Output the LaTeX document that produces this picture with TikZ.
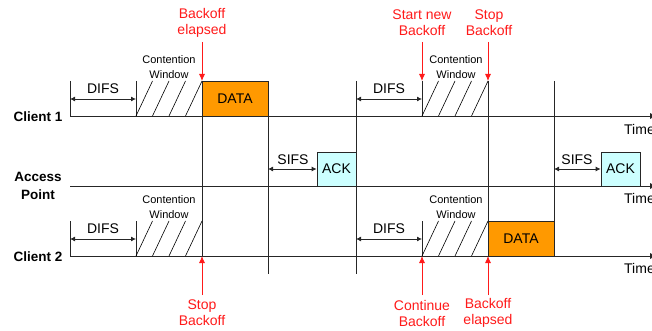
\documentclass[tikz,border=0pt]{standalone}
\usepackage{fontspec}
\setmainfont{Liberation Sans}
\usetikzlibrary{arrows.meta}
\definecolor{dataor}{HTML}{FF9900}
\definecolor{ackcy}{HTML}{CCFFFF}
\definecolor{redc}{HTML}{FF1A1A}
\tikzset{
  ln/.style={line width=0.8pt, draw=black!85},
  axis/.style={ln, -{Latex[length=7pt,width=6pt]}},
  dim/.style={ln, {Latex[length=5pt,width=5pt]}-{Latex[length=5pt,width=5pt]}},
  hatch/.style={line width=0.6pt, draw=black},
  redarr/.style={line width=0.9pt, draw=redc, -{Latex[length=7pt,width=6pt]}},
  redtxt/.style={text=redc, font=\fontsize{14}{16}\selectfont, align=center, inner sep=0pt},
  cwtxt/.style={font=\fontsize{11}{15}\selectfont, align=center, inner sep=0pt},
  dimtxt/.style={font=\fontsize{14}{16}\selectfont, inner sep=0pt},
  lbl/.style={font=\bfseries\fontsize{13.5}{18}\selectfont, align=center, inner sep=0pt},
  timetxt/.style={font=\fontsize{14}{16}\selectfont, anchor=west, inner sep=0pt},
  databox/.style={ln, fill=dataor, font=\fontsize{14}{16}\selectfont},
  ackbox/.style={ln, fill=ackcy, font=\fontsize{14}{16}\selectfont},
}
\begin{document}
\begin{tikzpicture}[x=1pt,y=-1pt]
\useasboundingbox (0,0) rectangle (652,331);
% row labels
\node[lbl] (c1) at (38,117) {Client 1};
\node[lbl] (ap) at (38,186) {Access\\Point};
\node[lbl] (c2) at (38,257) {Client 2};
% axes
\coordinate (a1s) at (70,116); \coordinate (a1e) at (657,116);
\coordinate (a2s) at (70,186); \coordinate (a2e) at (657,186);
\coordinate (a3s) at (70,256); \coordinate (a3e) at (657,256);
% boxes
\node[databox, minimum width=66pt, minimum height=35pt, inner sep=0pt] (d1) at (235,98.5) {DATA};
\node[databox, minimum width=66pt, minimum height=35pt, inner sep=0pt] (d2) at (521,238.5) {DATA};
\node[ackbox, minimum width=39pt, minimum height=34pt, inner sep=0pt] (k1) at (336.5,169) {ACK};
\node[ackbox, minimum width=39pt, minimum height=34pt, inner sep=0pt] (k2) at (620.5,169) {ACK};
\draw[axis] (a1s) -- (a1e);
\draw[axis] (a2s) -- (a2e);
\draw[axis] (a3s) -- (a3e);
\node[timetxt] (t1) at (624,129) {Time};
\node[timetxt] (t2) at (624,198) {Time};
\node[timetxt] (t3) at (624,268) {Time};
% vertical markers
\coordinate (v1a) at (70,81);  \coordinate (v1b) at (70,116);
\coordinate (v2a) at (136,81); \coordinate (v2b) at (136,116);
\coordinate (v3a) at (70,221); \coordinate (v3b) at (70,256);
\coordinate (v4a) at (136,221); \coordinate (v4b) at (136,256);
\coordinate (v5a) at (202,81); \coordinate (v5b) at (202,256);
\coordinate (v6a) at (268,116); \coordinate (v6b) at (268,274);
\coordinate (v7a) at (356,81); \coordinate (v7b) at (356,274);
\coordinate (v8a) at (422,81); \coordinate (v8b) at (422,116);
\coordinate (v9a) at (422,221); \coordinate (v9b) at (422,256);
\coordinate (v10a) at (488,81); \coordinate (v10b) at (488,221);
\coordinate (v11a) at (554,81); \coordinate (v11b) at (554,221);
\foreach \i in {1,...,11} {\draw[ln] (v\i a) -- (v\i b);}
% hatches
\foreach \x/\t in {136/81, 136/221, 422/81, 422/221} {
  \foreach \k in {0,1,2,3} {
    \draw[hatch] ({\x+16.5*\k},{\t+35}) -- ({\x+16.5*(\k+1)},\t);
  }
}
% DIFS
\coordinate (df1a) at (70,99);  \coordinate (df1b) at (136,99);
\coordinate (df2a) at (70,239); \coordinate (df2b) at (136,239);
\coordinate (df3a) at (356,99); \coordinate (df3b) at (422,99);
\coordinate (df4a) at (356,239); \coordinate (df4b) at (422,239);
\foreach \i in {1,...,4} {\draw[dim] (df\i a) -- (df\i b);}
\node[dimtxt] (dt1) at (103,89) {DIFS};
\node[dimtxt] (dt2) at (103,229) {DIFS};
\node[dimtxt] (dt3) at (389,89) {DIFS};
\node[dimtxt] (dt4) at (389,229) {DIFS};
% SIFS
\coordinate (sf1) at (268,169);
\coordinate (sf2) at (554,169);
\draw[dim] (sf1) -- (k1.west);
\draw[dim] (sf2) -- (k2.west);
\node[dimtxt] (st1) at (293,160) {SIFS};
\node[dimtxt] (st2) at (577,160) {SIFS};
% contention window labels
\node[cwtxt] (cw1) at (169,67.5) {Contention\\Window};
\node[cwtxt] (cw2) at (456,67.5) {Contention\\Window};
\node[cwtxt] (cw3) at (169,207.5) {Contention\\Window};
\node[cwtxt] (cw4) at (456,207.5) {Contention\\Window};
% red annotations top
\node[redtxt] (r1) at (202,23) {Backoff\\elapsed};
\node[redtxt] (r2) at (422,23) {Start new\\Backoff};
\node[redtxt] (r3) at (489,23) {Stop\\Backoff};
\draw[redarr] (202,42) -- (v5a);
\draw[redarr] (422,42) -- (v8a);
\draw[redarr] (488,42) -- (v10a);
% red annotations bottom
\node[redtxt] (r4) at (202,313) {Stop\\Backoff};
\node[redtxt] (r5) at (422,313) {Continue\\Backoff};
\node[redtxt] (r6) at (488,313) {Backoff\\elapsed};
\draw[redarr] (202,295) -- (202,256);
\draw[redarr] (422,295) -- (v9b);
\draw[redarr] (488,295) -- (488,256);
\end{tikzpicture}
\end{document}
